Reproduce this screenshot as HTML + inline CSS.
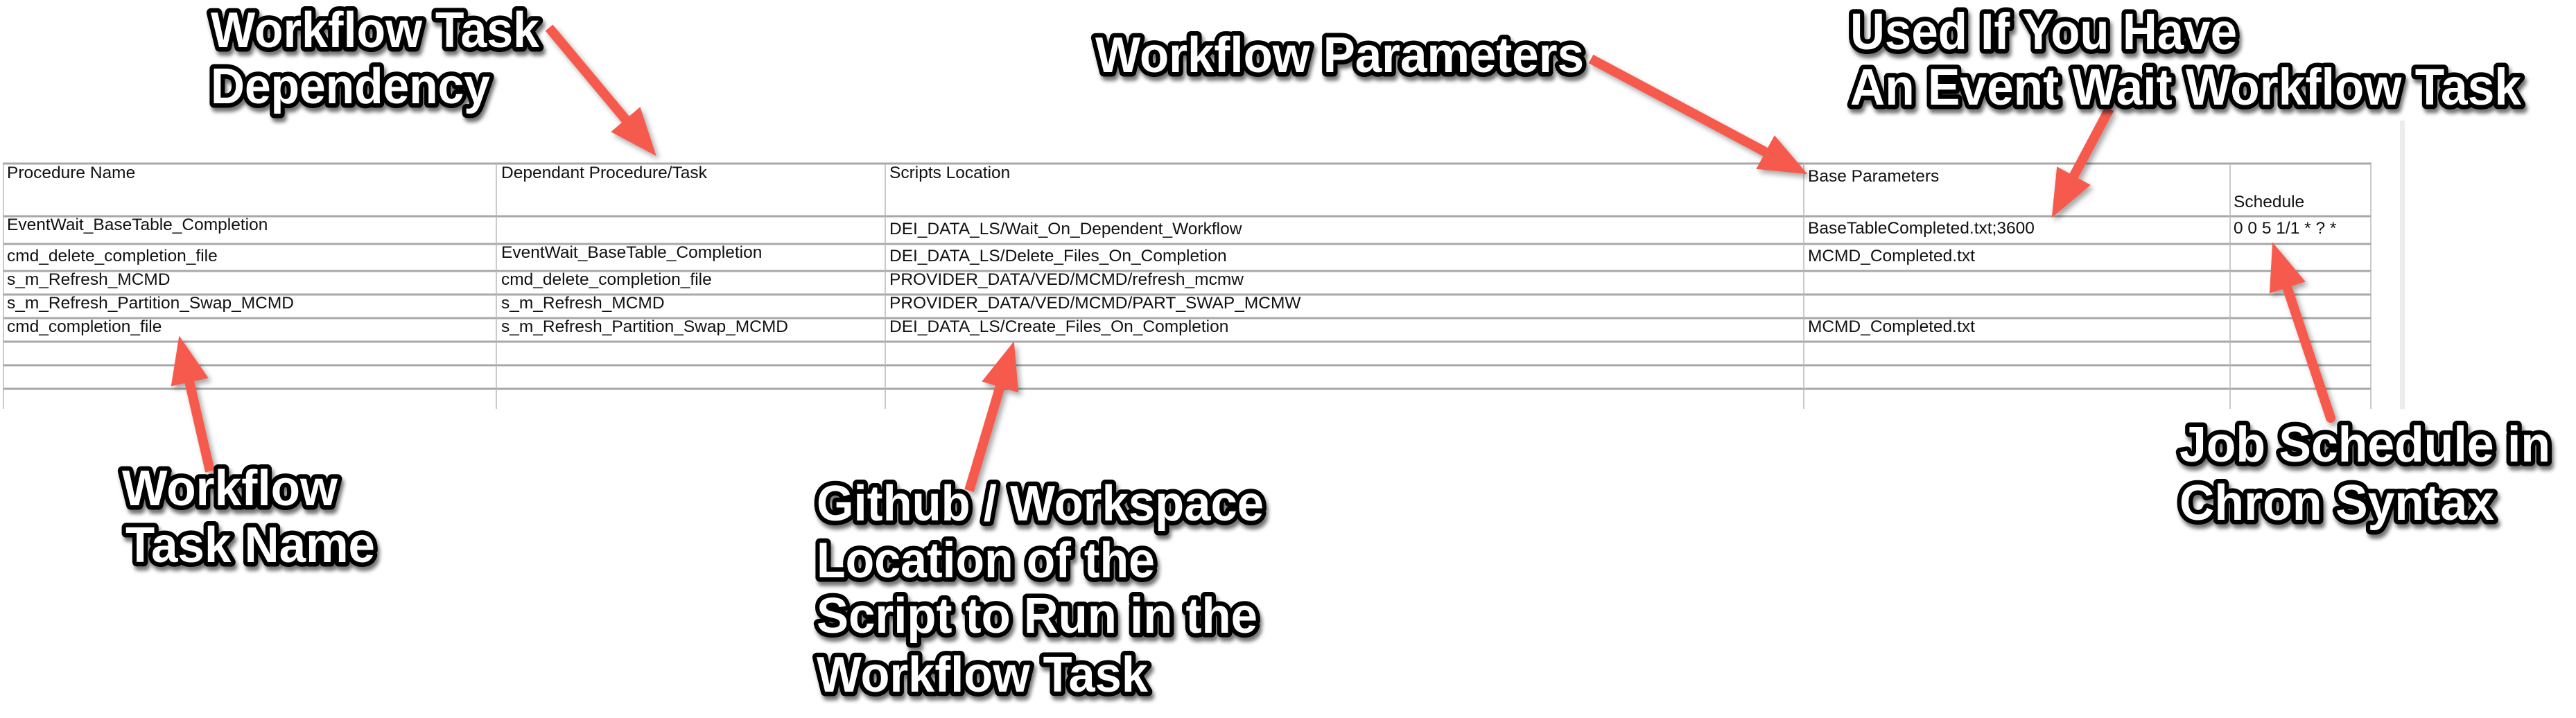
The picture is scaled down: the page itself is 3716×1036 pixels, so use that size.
<!DOCTYPE html>
<html><head><meta charset="utf-8">
<style>
html,body{margin:0;padding:0;background:#fff;}
svg{display:block;}
.t{font-family:"Liberation Sans",Arial,sans-serif;font-size:24.5px;fill:#111;}
.lb{font-family:"Liberation Sans",Arial,sans-serif;font-weight:bold;font-size:72px;fill:#fff;stroke:#000;stroke-width:13;stroke-linejoin:round;paint-order:stroke fill;filter:url(#sh);}
.ar{fill:#f65a4e;stroke:#f65a4e;}
</style></head>
<body>
<svg width="3716" height="1036" viewBox="0 0 3716 1036" xmlns="http://www.w3.org/2000/svg">
<defs>
<filter id="sh" x="-10%" y="-30%" width="120%" height="160%">
<feGaussianBlur in="SourceAlpha" stdDeviation="3"/>
<feOffset dx="3" dy="6" result="b"/>
<feComponentTransfer><feFuncA type="linear" slope="0.55"/></feComponentTransfer>
<feMerge><feMergeNode/><feMergeNode in="SourceGraphic"/></feMerge>
</filter>
<filter id="ash" x="-20%" y="-20%" width="140%" height="140%">
<feGaussianBlur in="SourceAlpha" stdDeviation="4"/>
<feOffset dx="4" dy="5"/>
<feComponentTransfer><feFuncA type="linear" slope="0.35"/></feComponentTransfer>
<feMerge><feMergeNode/><feMergeNode in="SourceGraphic"/></feMerge>
</filter>
</defs>
<rect width="3716" height="1036" fill="#fff"/>

<rect x="3462" y="174" width="7" height="416" fill="#ececec"/>

<g stroke="#a8a8a8" stroke-width="3">
<line x1="4" y1="236" x2="3421" y2="236"/>
<line x1="4" y1="312" x2="3421" y2="312"/>
<line x1="4" y1="352" x2="3421" y2="352"/>
<line x1="4" y1="391" x2="3421" y2="391"/>
<line x1="4" y1="425" x2="3421" y2="425"/>
<line x1="4" y1="459" x2="3421" y2="459"/>
<line x1="4" y1="493" x2="3421" y2="493"/>
<line x1="4" y1="527" x2="3421" y2="527"/>
<line x1="4" y1="561" x2="3421" y2="561"/>
</g>
<g stroke="#b8b8b8" stroke-width="1.5">
<line x1="5" y1="236" x2="5" y2="590"/>
<line x1="716" y1="236" x2="716" y2="590"/>
<line x1="1277" y1="236" x2="1277" y2="590"/>
<line x1="2602" y1="236" x2="2602" y2="590"/>
<line x1="3217" y1="236" x2="3217" y2="590"/>
<line x1="3420" y1="236" x2="3420" y2="590"/>
</g>

<text class="t" x="10" y="257">Procedure Name</text>
<text class="t" x="723" y="257">Dependant Procedure/Task</text>
<text class="t" x="1283" y="257">Scripts Location</text>
<text class="t" x="2608" y="262">Base Parameters</text>
<text class="t" x="3222" y="299">Schedule</text>

<text class="t" x="10" y="332">EventWait_BaseTable_Completion</text>
<text class="t" x="1283" y="338">DEI_DATA_LS/Wait_On_Dependent_Workflow</text>
<text class="t" x="2608" y="337">BaseTableCompleted.txt;3600</text>
<text class="t" x="3222" y="337">0 0 5 1/1 * ? *</text>

<text class="t" x="10" y="377">cmd_delete_completion_file</text>
<text class="t" x="723" y="372">EventWait_BaseTable_Completion</text>
<text class="t" x="1283" y="377">DEI_DATA_LS/Delete_Files_On_Completion</text>
<text class="t" x="2608" y="377">MCMD_Completed.txt</text>

<text class="t" x="10" y="411">s_m_Refresh_MCMD</text>
<text class="t" x="723" y="411">cmd_delete_completion_file</text>
<text class="t" x="1283" y="411">PROVIDER_DATA/VED/MCMD/refresh_mcmw</text>

<text class="t" x="10" y="445">s_m_Refresh_Partition_Swap_MCMD</text>
<text class="t" x="723" y="445">s_m_Refresh_MCMD</text>
<text class="t" x="1283" y="445">PROVIDER_DATA/VED/MCMD/PART_SWAP_MCMW</text>

<text class="t" x="10" y="479">cmd_completion_file</text>
<text class="t" x="723" y="479">s_m_Refresh_Partition_Swap_MCMD</text>
<text class="t" x="1283" y="479">DEI_DATA_LS/Create_Files_On_Completion</text>
<text class="t" x="2608" y="479">MCMD_Completed.txt</text>

<g filter="url(#ash)">
<g class="ar">
<line x1="792" y1="40" x2="903" y2="173" stroke-width="14"/>
<polygon points="945,223 883,190 923,156" stroke-width="2"/>
</g>
<g class="ar">
<line x1="2295" y1="85" x2="2548" y2="220" stroke-width="14"/>
<polygon points="2605,250 2535,243 2560,197" stroke-width="2"/>
</g>
<g class="ar">
<line x1="3043" y1="157" x2="2991" y2="255" stroke-width="14"/>
<polygon points="2961,312 2968,242 3014,267" stroke-width="2"/>
</g>
<g class="ar">
<line x1="3362" y1="603" x2="3299" y2="414" stroke-width="14" stroke-linecap="round"/>
<polygon points="3279,352 3324,406 3275,422" stroke-width="2"/>
</g>
<g class="ar">
<line x1="303" y1="680" x2="273" y2="550" stroke-width="14"/>
<polygon points="259,487 299,545 248,556" stroke-width="2"/>
</g>
<g class="ar">
<line x1="1398" y1="708" x2="1443" y2="557" stroke-width="14"/>
<polygon points="1462,495 1468,565 1418,550" stroke-width="2"/>
</g>
</g>

<text class="lb" x="304" y="68" textLength="474" lengthAdjust="spacingAndGlyphs">Workflow Task</text>
<text class="lb" x="304" y="149" textLength="403" lengthAdjust="spacingAndGlyphs">Dependency</text>

<text class="lb" x="1580" y="104" textLength="705" lengthAdjust="spacingAndGlyphs">Workflow Parameters</text>

<text class="lb" x="2669" y="71" style="font-size:74px" textLength="558" lengthAdjust="spacingAndGlyphs">Used If You Have</text>
<text class="lb" x="2669" y="151" style="font-size:74px" textLength="968" lengthAdjust="spacingAndGlyphs">An Event Wait Workflow Task</text>

<text class="lb" x="176" y="729" textLength="311" lengthAdjust="spacingAndGlyphs">Workflow</text>
<text class="lb" x="181" y="811" textLength="360" lengthAdjust="spacingAndGlyphs">Task Name</text>

<text class="lb" x="1178" y="751" textLength="645" lengthAdjust="spacingAndGlyphs">Github / Workspace</text>
<text class="lb" x="1178" y="833" textLength="488" lengthAdjust="spacingAndGlyphs">Location of the</text>
<text class="lb" x="1178" y="913" textLength="636" lengthAdjust="spacingAndGlyphs">Script to Run in the</text>
<text class="lb" x="1178" y="998" textLength="478" lengthAdjust="spacingAndGlyphs">Workflow Task</text>

<text class="lb" x="3144" y="666" textLength="535" lengthAdjust="spacingAndGlyphs">Job Schedule in</text>
<text class="lb" x="3144" y="750" textLength="454" lengthAdjust="spacingAndGlyphs">Chron Syntax</text>
</svg>
</body></html>
